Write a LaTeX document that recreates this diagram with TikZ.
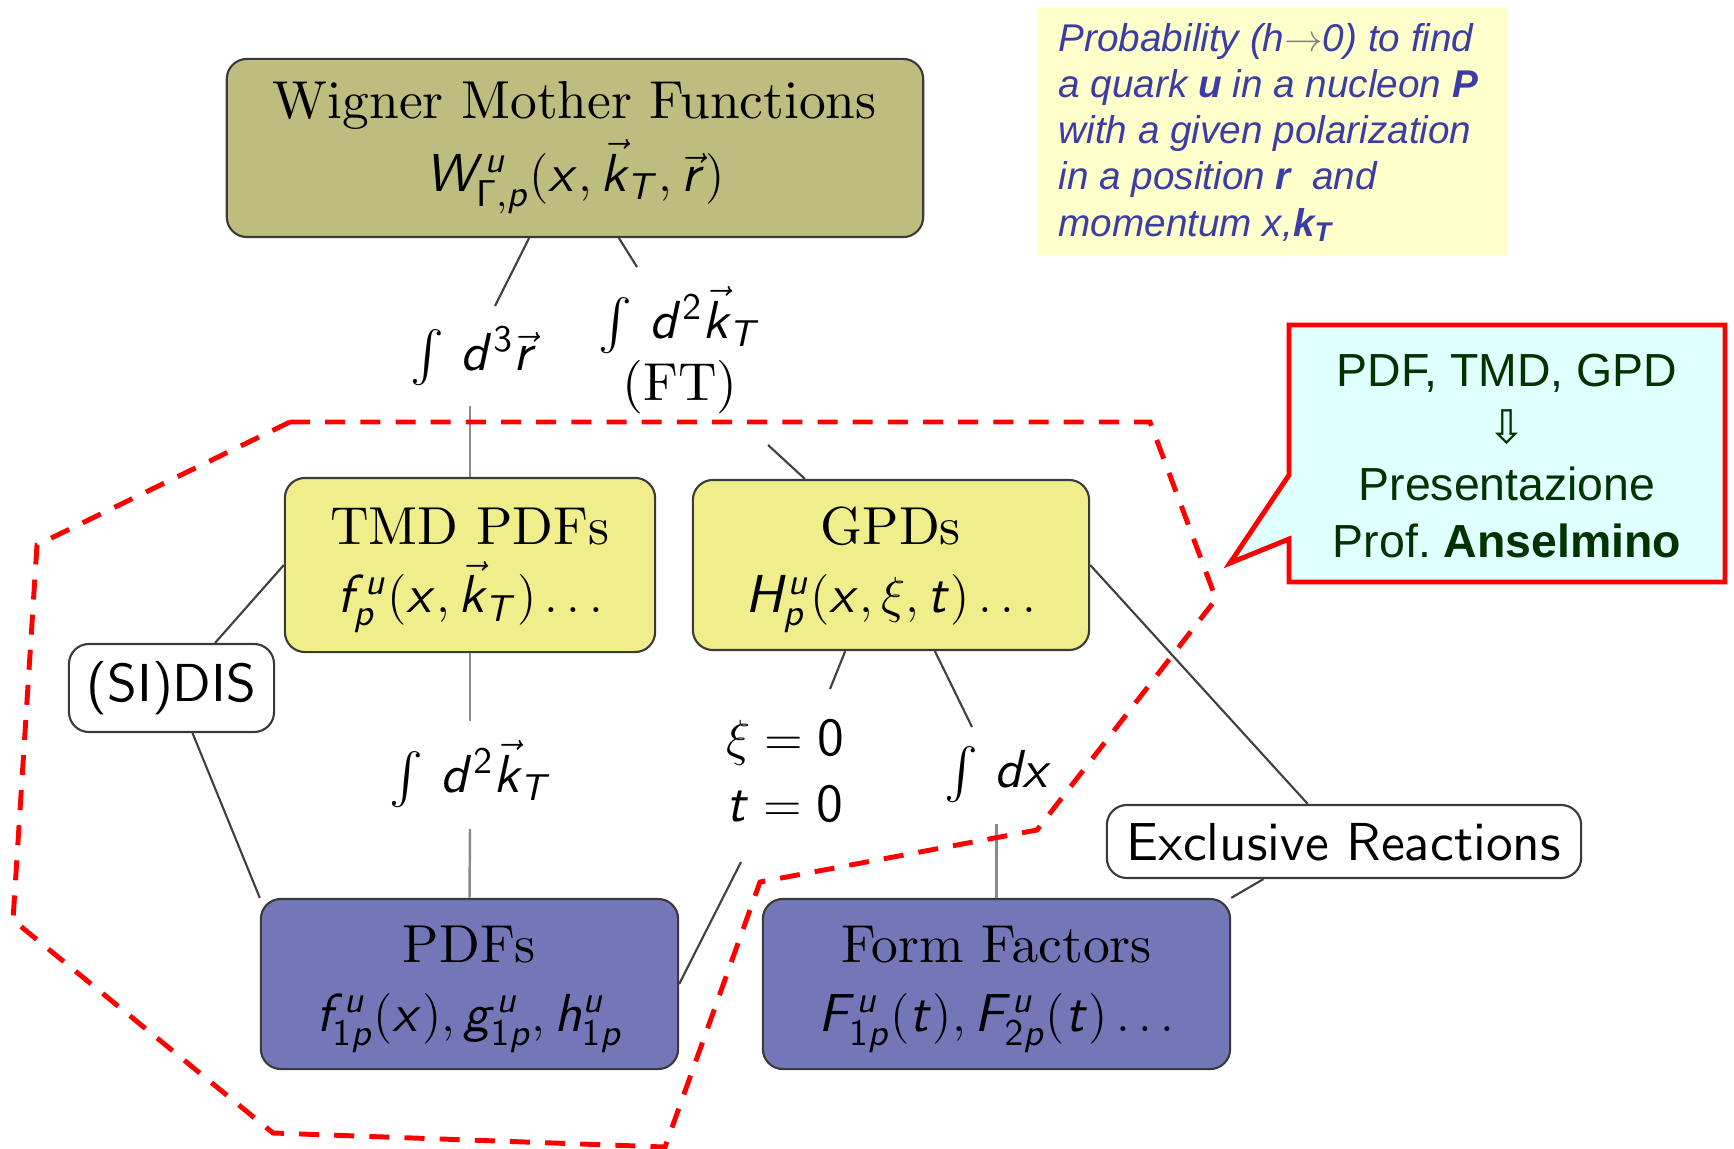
\documentclass[tikz,border=0pt]{standalone}
\usepackage{exscale}
\usepackage{graphicx}
\usepackage[no-math]{fontspec}
\newfontfamily\arialfont{Liberation Sans}
\newfontfamily\dejavufont{DejaVu Sans}

% Computer Modern at its 10pt design, scaled to any size
\DeclareFontFamily{OT1}{cmrten}{}
\DeclareFontShape{OT1}{cmrten}{m}{n}{<-> cmr10}{}
\DeclareFontFamily{OT1}{cmssten}{}
\DeclareFontShape{OT1}{cmssten}{m}{n}{<-> cmss10}{}
\DeclareFontShape{OT1}{cmssten}{m}{sl}{<-> cmssi10}{}
\newcommand\cmrtext{\fontencoding{OT1}\fontfamily{cmrten}\fontseries{m}\fontshape{n}\selectfont}
\newcommand\cmsstext{\fontencoding{OT1}\fontfamily{cmssten}\fontseries{m}\fontshape{n}\selectfont}
% extra room above the first line of a box
\newcommand\topstrut{\rule{0pt}{13.4pt}}

% formulas: slanted sans-serif letters, upright sans-serif digits and Gamma
\DeclareSymbolFont{sfit}{OT1}{cmssten}{m}{sl}
\DeclareSymbolFont{sfup}{OT1}{cmssten}{m}{n}
\DeclareMathSymbol{W}{\mathalpha}{sfit}{`W}
\DeclareMathSymbol{H}{\mathalpha}{sfit}{`H}
\DeclareMathSymbol{F}{\mathalpha}{sfit}{`F}
\DeclareMathSymbol{T}{\mathalpha}{sfit}{`T}
\DeclareMathSymbol{u}{\mathalpha}{sfit}{`u}
\DeclareMathSymbol{p}{\mathalpha}{sfit}{`p}
\DeclareMathSymbol{x}{\mathalpha}{sfit}{`x}
\DeclareMathSymbol{k}{\mathalpha}{sfit}{`k}
\DeclareMathSymbol{r}{\mathalpha}{sfit}{`r}
\DeclareMathSymbol{f}{\mathalpha}{sfit}{`f}
\DeclareMathSymbol{d}{\mathalpha}{sfit}{`d}
\DeclareMathSymbol{t}{\mathalpha}{sfit}{`t}
\DeclareMathSymbol{g}{\mathalpha}{sfit}{`g}
\DeclareMathSymbol{h}{\mathalpha}{sfit}{`h}
\DeclareMathSymbol{0}{\mathalpha}{sfup}{`0}
\DeclareMathSymbol{1}{\mathalpha}{sfup}{`1}
\DeclareMathSymbol{2}{\mathalpha}{sfup}{`2}
\DeclareMathSymbol{3}{\mathalpha}{sfup}{`3}
\DeclareMathSymbol{\sfGamma}{\mathalpha}{sfup}{"00}

\definecolor{olivefill}{HTML}{BDBD7F}
\definecolor{yelfill}{HTML}{F0EE8A}
\definecolor{bluefill}{HTML}{7377B7}
\definecolor{boxline}{HTML}{3A3A3A}
\definecolor{linedark}{HTML}{404040}
\definecolor{linelight}{HTML}{8A8A8A}
\definecolor{notefill}{HTML}{FFFFCC}
\definecolor{notecolor}{HTML}{3C3CA8}
\definecolor{calloutfill}{HTML}{E0FFFF}
\definecolor{callouttext}{HTML}{003300}

\begin{document}
\begin{tikzpicture}[x=0.01cm, y=-0.01cm,
  box/.style={draw=boxline, line width=0.6pt, rounded corners=0.2cm, align=center,
    inner sep=0pt, font={\fontsize{15.2}{19.5}\cmrtext}},
  tag/.style={draw=boxline, line width=0.6pt, rounded corners=0.2cm, fill=white,
    inner sep=0pt, font={\fontsize{15.2}{18}\cmsstext}},
  lbl/.style={inner sep=0pt, font={\fontsize{15.2}{18}\cmrtext}},
  conn/.style={draw=linedark, line width=0.6pt},
  lightconn/.style={draw=linelight, line width=0.7pt},
  hull/.style={draw=red, line width=1.4pt, dash pattern=on 5.7pt off 4.3pt},
  notetext/.style={inner sep=0pt, align=left, text=notecolor,
    font=\arialfont\itshape\fontsize{11}{13.1}\selectfont},
  callouttextstyle/.style={inner sep=0pt, align=center, text=callouttext,
    font=\arialfont\fontsize{13.2}{16.2}\selectfont}]
\fill[white] (0,0) rectangle (1734,1149);
\useasboundingbox (0,0) rectangle (1734,1149);

% function boxes
\node[box, fill=olivefill, minimum width=6.96cm, minimum height=1.78cm] (wig) at (575,148)
  {Wigner Mother Functions\\[1pt] $W^u_{\sfGamma,p}(x,\vec{k}_T,\vec{r})$};
\node[box, fill=yelfill, minimum width=3.70cm, minimum height=1.74cm] (tmd) at (470,565)
  {\topstrut TMD PDFs\\ $f^u_p(x,\vec{k}_T)\ldots$};
\node[box, fill=yelfill, minimum width=3.96cm, minimum height=1.70cm] (gpd) at (891,565)
  {\topstrut GPDs\\ $H^u_p(x,\xi,t)\ldots$};
\node[box, fill=bluefill, minimum width=4.17cm, minimum height=1.70cm] (pdf) at (469.5,984)
  {\topstrut PDFs\\ $f^u_{1p}(x), g^u_{1p}, h^u_{1p}$};
\node[box, fill=bluefill, minimum width=4.67cm, minimum height=1.70cm] (ff) at (996.5,984)
  {\topstrut Form Factors\\ $F^u_{1p}(t), F^u_{2p}(t)\ldots$};

% process tags
\node[tag, minimum width=2.05cm, minimum height=0.88cm] (sidis) at (171.5,688) {(SI)DIS};
\node[tag, minimum width=4.74cm, minimum height=0.73cm] (excl) at (1344,841.5) {Exclusive Reactions};

% operation labels
\node[lbl, anchor=base] (d3r) at (474,370) {$\int\, d^3\vec{r}$};
\node[lbl, anchor=base] (dkt) at (680,338) {$\int\, d^2\vec{k}_T$};
\node[lbl, anchor=base] (ft) at (680,400) {(FT)};
\node[lbl, anchor=base] (dkt2) at (471,792) {$\int\, d^2\vec{k}_T$};
\node[lbl, anchor=base] (xi0) at (785,755) {$\xi=0$};
\node[lbl, anchor=base] (t0) at (785,821) {$t=0$};
\node[lbl, anchor=base] (intdx) at (998,787) {$\int\, dx$};

% free ends of the connectors next to the labels
\coordinate (d3r-top) at (495,306);
\coordinate (d3r-bot) at (470,406);
\coordinate (ft-top) at (637,267);
\coordinate (ft-bot) at (768,445);
\coordinate (kt-top) at (470,721);
\coordinate (kt-bot) at (470,829);
\coordinate (xi-top) at (830,689);
\coordinate (t-bot) at (741,862);
\coordinate (dx-top) at (972,727);
\coordinate (dx-bot) at (996.5,824);

% connectors
\draw[conn] (wig.243.2) -- (d3r-top);
\draw[conn] (wig.296.8) -- (ft-top);
\draw[lightconn] (d3r-bot) -- (tmd.north);
\draw[conn] (ft-bot) -- (gpd.135.7);
\draw[conn] (tmd.west) -- (sidis.46);
\draw[conn] (sidis.295) -- (pdf.north west);
\draw[lightconn] (tmd.south) -- (kt-top);
\draw[lightconn] (kt-bot) -- (pdf.north);
\draw[conn] (gpd.242.6) -- (xi-top);
\draw[conn] (gpd.297.9) -- (dx-top);
\draw[conn] (t-bot) -- (pdf.east);
\draw[lightconn] (dx-bot) -- (ff.north);
\draw[conn] (gpd.east) -- (excl.134.6);
\draw[conn] (excl.205.65) -- (ff.north east);

% note on the Wigner distribution
\node[fill=notefill, minimum width=4.71cm, minimum height=2.49cm, anchor=north west, inner sep=0pt]
  (note) at (1036,6) {};
\node[notetext, anchor=north west] (notetxt) at (1058,23)
  {Probability (h{\color{gray}$\rightarrow$}0) to find\\
   a quark \textbf{u} in a nucleon \textbf{P}\\
   with a given polarization\\
   in a position \textbf{r}\ \ and\\
   momentum x,\textbf{k}\textsubscript{\textbf{T}}};

% speech bubble
\path[fill=calloutfill, draw=red, line width=1.4pt]
  (1289,325) -- (1725,325) -- (1725,582) -- (1289,582) -- (1289,539)
  -- (1230,563) -- (1289,475) -- cycle;
\node[callouttextstyle] (callout) at (1507,456)
  {PDF, TMD, GPD\\ {\dejavufont ⇩}\\ Presentazione\\ Prof.\ \textbf{Anselmino}};

% dashed outline of the region covered
\draw[hull] (290,422) -- (1150,422) -- (1216,599) -- (1037,830) -- (760,882)
  -- (665,1147) -- (273,1133) -- (13,920) -- (37,545) -- cycle;
\end{tikzpicture}
\end{document}
